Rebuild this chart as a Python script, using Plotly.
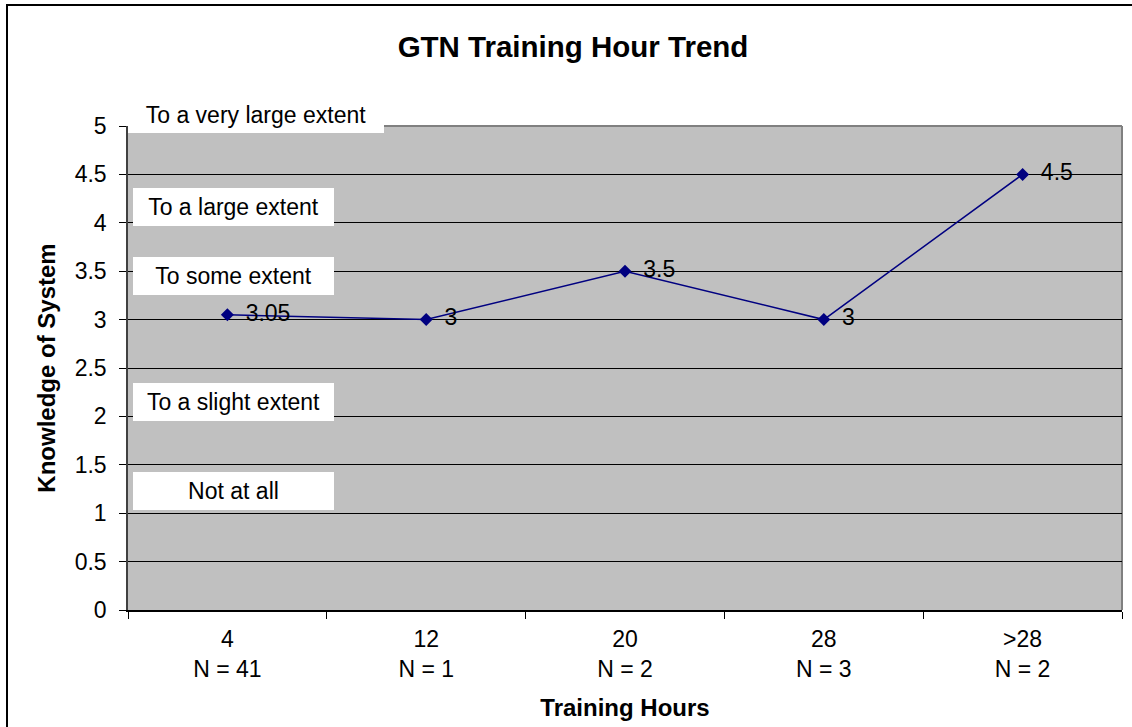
import plotly.graph_objects as go

categories = ["4<br>N = 41", "12<br>N = 1", "20<br>N = 2", "28<br>N = 3", ">28<br>N = 2"]
values = [3.05, 3, 3.5, 3, 4.5]
value_labels = ["3.05", "3", "3.5", "3", "4.5"]
scale_labels = ["To a very large extent", "To a large extent", "To some extent",
                "To a slight extent", "Not at all"]

FONT = "Arial, Liberation Sans, sans-serif"
W, H = 1132, 727
L, R, T, B = 128, 10, 126, 117
pw = W - L - R
ph = H - T - B

def px_x(p):
    return (p - L) / pw

def px_y(p):
    return (H - B - p) / ph

# label boxes (pixel centre x, centre y, width, height)
boxes = [(256, 115, 256, 36), (233.5, 207, 201, 38), (233.5, 275.5, 201, 38),
         (233.5, 402, 201, 38), (233.5, 491, 201, 38)]

fig = go.Figure()
fig.add_trace(go.Scatter(
    x=categories, y=values, mode="lines+markers+text",
    line=dict(color="#000080", width=1.5),
    marker=dict(symbol="diamond", size=10, color="#000080"),
    text=["\u2009 " + t for t in value_labels], textposition="middle right",
    textfont=dict(family=FONT, size=23, color="black"),
    cliponaxis=False, showlegend=False, hoverinfo="skip",
))

annotations = []
for lab, (cx, cy, w, h) in zip(scale_labels, boxes):
    annotations.append(dict(
        x=px_x(cx), xref="paper", y=px_y(cy), yref="paper", text=lab, showarrow=False,
        bgcolor="white", width=w, height=h, borderpad=0, borderwidth=0,
        font=dict(family=FONT, size=23, color="black"), xanchor="center", yanchor="middle",
    ))

shapes = [
    dict(type="line", xref="paper", yref="paper", x0=0, x1=1, y0=1, y1=1,
         line=dict(color="#808080", width=2), layer="below"),
    dict(type="line", xref="paper", yref="paper", x0=1, x1=1, y0=0, y1=1,
         line=dict(color="#808080", width=2), layer="below"),
    dict(type="rect", xref="paper", yref="paper", x0=px_x(7), x1=px_x(1140),
         y0=px_y(740), y1=px_y(5), line=dict(color="black", width=2)),
]

fig.update_layout(
    width=W, height=H,
    margin=dict(l=L, r=R, t=T, b=B, autoexpand=False),
    paper_bgcolor="white", plot_bgcolor="#C0C0C0",
    title=dict(text="<b>GTN Training Hour Trend</b>", x=573 / W, xref="container",
               xanchor="center", y=1 - 47 / H, yref="container", yanchor="middle",
               font=dict(family=FONT, size=29.5, color="black")),
    annotations=annotations, shapes=shapes,
    font=dict(family=FONT, color="black"),
)
fig.update_xaxes(
    type="category", range=[-0.5, 4.5], tickson="boundaries",
    ticks="outside", ticklen=7, tickcolor="black", ticklabelstandoff=8,
    showline=True, linecolor="black", linewidth=1.5, showgrid=False,
    tickfont=dict(family=FONT, size=23, color="black"),
    title=dict(text="<b>Training Hours</b>", font=dict(family=FONT, size=24, color="black"),
               standoff=18),
)
fig.update_yaxes(
    range=[0, 5], dtick=0.5, tick0=0, ticks="outside", ticklen=7, tickcolor="black",
    ticklabelstandoff=8,
    showline=True, linecolor="#404040", linewidth=1.5,
    showgrid=True, gridcolor="black", gridwidth=1, zeroline=False,
    tickfont=dict(family=FONT, size=23, color="black"),
    title=dict(text="<b>Knowledge of System</b>", font=dict(family=FONT, size=24, color="black"),
               standoff=12),
)

fig.write_html("out.html", config={"displayModeBar": False},
               post_script="document.body.style.margin='0';")
